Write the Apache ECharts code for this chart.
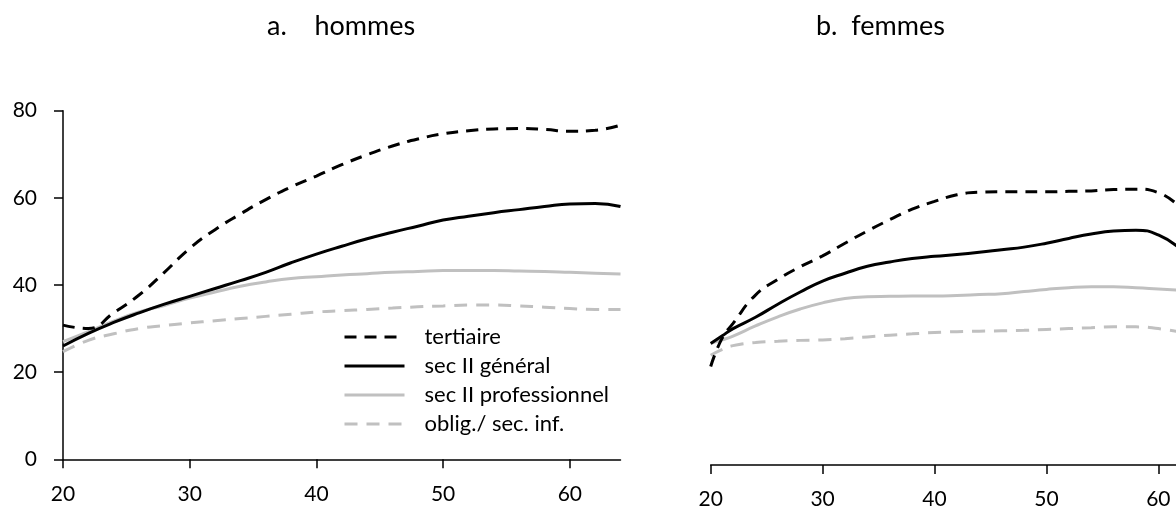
<!DOCTYPE html>
<html>
<head>
<meta charset="utf-8">
<script src="https://cdn.jsdelivr.net/npm/echarts@6/dist/echarts.min.js"></script>
<style>
html,body{margin:0;padding:0;background:#fff;}
#c{width:1176px;height:509px;}
</style>
</head>
<body>
<div id="c"></div>
<script>
// ---- data ----
const seriesNames = ['tertiaire', 'sec II général', 'sec II professionnel', 'oblig./ sec. inf.'];
const xTicks = [20, 30, 40, 50, 60];
const yTicks = [0, 20, 40, 60, 80];

// a. hommes
const agesH = [20,22,24,26,28,30,32,34,36,38,40,42,44,46,48,50,52,54,56,58,60,62,64];
const hTertiaire   = [30.8,30.0,33.6,37.7,42.9,48.4,52.7,56.3,59.6,62.5,65.0,67.6,69.9,71.9,73.5,74.7,75.4,75.8,75.9,75.7,75.3,75.5,76.7];
const hGeneral     = [26.0,28.9,31.4,33.6,35.6,37.4,39.2,41.0,42.9,45.1,47.1,48.9,50.6,52.1,53.5,54.9,55.8,56.6,57.3,58.0,58.6,58.7,58.0];
const hProf        = [27.0,29.3,31.7,33.8,35.3,37.0,38.4,39.7,40.7,41.5,41.9,42.3,42.6,42.9,43.1,43.3,43.3,43.3,43.2,43.1,42.9,42.7,42.5];
const hOblig       = [24.7,27.3,28.8,30.0,30.7,31.3,31.8,32.3,32.8,33.3,33.8,34.1,34.4,34.7,35.0,35.2,35.4,35.4,35.2,34.9,34.6,34.4,34.4];

// b. femmes
const agesF = [20,21,22,24,26,28,30,32,34,36,38,40,42,44,46,48,50,52,54,56,58,60,62];
const fTertiaire   = [22.6,29.0,32.5,39.0,42.6,45.5,48.0,50.9,53.7,56.3,58.7,60.5,62.0,62.6,62.7,62.7,62.7,62.8,62.9,63.2,63.3,62.5,59.0];
const fGeneral     = [27.9,29.6,31.3,33.9,36.9,39.7,42.2,44.0,45.6,46.6,47.4,47.9,48.3,48.8,49.4,50.0,50.9,52.0,53.0,53.7,53.9,52.8,49.5];
const fProf        = [27.9,28.7,29.6,31.9,34.0,35.8,37.2,38.2,38.6,38.7,38.8,38.8,38.9,39.1,39.3,39.8,40.3,40.7,40.9,40.9,40.7,40.4,40.1];
const fOblig       = [25.2,26.5,27.4,28.1,28.4,28.6,28.7,29.0,29.4,29.8,30.1,30.4,30.6,30.7,30.8,30.9,31.1,31.3,31.5,31.7,31.7,31.3,30.5];

// ---- styles ----
const FONT = 'Lato';
const styles = [
  {color:'#000000', type:[12,8]},
  {color:'#000000', type:'solid'},
  {color:'#c0c0c0', type:'solid'},
  {color:'#c0c0c0', type:[13,9]}
];
function pairs(ages, vals){ return ages.map((a,i)=>[a, vals[i]]); }
function mk(name, idx, data, gi){
  const s = styles[idx];
  return {
    name: name, type:'line', xAxisIndex: gi, yAxisIndex: gi,
    data: data, smooth: true, symbol:'none', showSymbol:false,
    lineStyle:{color:s.color, width:3, type:s.type},
    itemStyle:{color:s.color},
    emphasis:{disabled:true}, z: 10 - idx
  };
}
const axisLineStyle = {color:'#000', width:1.5};
function xAxis(gi){
  return {
    type:'value', gridIndex: gi, min:20, max:64, interval:10,
    axisLine:{show:true, onZero:false, lineStyle:axisLineStyle},
    axisTick:{show:true, inside:false, length:9, lineStyle:axisLineStyle},
    axisLabel:{show:true, margin:24, color:'#000', fontFamily:FONT, fontSize:21,
      showMaxLabel:false,
      formatter: v => xTicks.indexOf(v) >= 0 ? String(v) : ''},
    splitLine:{show:false}
  };
}
function yAxis(gi, show){
  return {
    type:'value', gridIndex: gi, min:0, max:80, interval:20, show: show,
    axisLine:{show:true, lineStyle:axisLineStyle},
    axisTick:{show:true, inside:false, length:9, lineStyle:axisLineStyle},
    axisLabel:{show:true, margin:26, color:'#000', fontFamily:FONT, fontSize:21,
      formatter: v => yTicks.indexOf(v) >= 0 ? String(v) : ''},
    splitLine:{show:false}
  };
}

const chart = echarts.init(document.getElementById('c'), null, {renderer:'canvas'});
chart.setOption({
  animation:false,
  backgroundColor:'#ffffff',
  title:[
    {text:'a.    hommes', left:267, top:13, padding:0,
     textStyle:{fontFamily:FONT, fontSize:27, fontWeight:'normal', color:'#000'}},
    {text:'b.  femmes', left:816, top:13, padding:0,
     textStyle:{fontFamily:FONT, fontSize:27, fontWeight:'normal', color:'#000'}}
  ],
  legend:{
    show:true, orient:'vertical', left:343, top:326, padding:0,
    itemWidth:60, itemHeight:14, itemGap:7,
    data: seriesNames,
    selectedMode:false,
    lineStyle:{width:3},
    itemStyle:{color:'transparent', borderColor:'transparent', borderWidth:0, opacity:0},
    textStyle:{fontFamily:FONT, fontSize:22, color:'#000', padding:[0,0,0,15]}
  },
  grid:[
    {left:63, top:110.7, width:557.5, height:348.6, containLabel:false, outerBoundsMode:'none'},
    {left:710.7, top:116.4, width:492.4, height:348.6, containLabel:false, outerBoundsMode:'none'}
  ],
  xAxis:[xAxis(0), xAxis(1)],
  yAxis:[yAxis(0, true), yAxis(1, false)],
  series:[
    mk(seriesNames[0], 0, pairs(agesH, hTertiaire), 0),
    mk(seriesNames[1], 1, pairs(agesH, hGeneral), 0),
    mk(seriesNames[2], 2, pairs(agesH, hProf), 0),
    mk(seriesNames[3], 3, pairs(agesH, hOblig), 0),
    mk(seriesNames[0], 0, pairs(agesF, fTertiaire), 1),
    mk(seriesNames[1], 1, pairs(agesF, fGeneral), 1),
    mk(seriesNames[2], 2, pairs(agesF, fProf), 1),
    mk(seriesNames[3], 3, pairs(agesF, fOblig), 1)
  ]
});
</script>
</body>
</html>
